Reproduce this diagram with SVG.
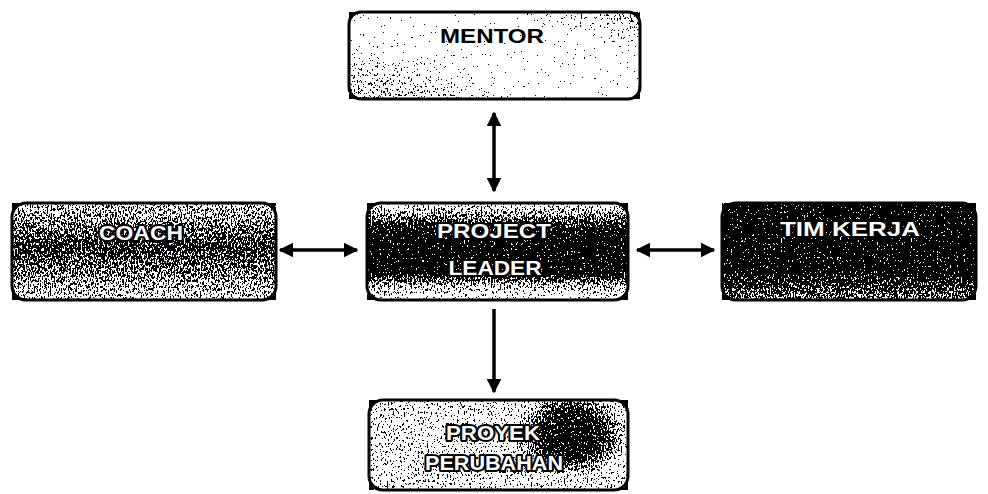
<svg xmlns="http://www.w3.org/2000/svg" width="988" height="494" viewBox="0 0 988 494">
<style>
.box{stroke:#000;stroke-width:3;fill:none}
.tx{font-family:"Liberation Sans",Arial,sans-serif;font-weight:bold;font-size:21px;text-anchor:middle}
.out{fill:#fff;stroke:#000;stroke-width:4;paint-order:stroke;stroke-linejoin:round}
.con{stroke:#000;stroke-width:3.5;fill:none}
</style>
<defs>
<filter id="dither" x="0" y="0" width="1" height="1" color-interpolation-filters="sRGB">
<feTurbulence type="fractalNoise" baseFrequency="0.7 0.35" numOctaves="3" seed="11" result="n"/>
<feColorMatrix in="n" type="matrix" values="1 0 0 0 0  1 0 0 0 0  1 0 0 0 0  0 0 0 0 1" result="g"/>
<feComposite in="SourceGraphic" in2="g" operator="arithmetic" k1="0" k2="1" k3="1.8" k4="-0.9" result="c"/>
<feComponentTransfer in="c">
<feFuncR type="discrete" tableValues="0 1"/>
<feFuncG type="discrete" tableValues="0 1"/>
<feFuncB type="discrete" tableValues="0 1"/>
<feFuncA type="linear" slope="0" intercept="1"/>
</feComponentTransfer>
</filter>
<linearGradient id="gM" x1="0" y1="1" x2="1" y2="0">
<stop offset="0" stop-color="#9a9a9a"/><stop offset="0.3" stop-color="#e6e6e6"/><stop offset="0.42" stop-color="#ffffff"/><stop offset="0.72" stop-color="#ffffff"/><stop offset="1" stop-color="#a0a0a0"/>
</linearGradient>
<linearGradient id="gC" x1="0" y1="0" x2="0" y2="1">
<stop offset="0" stop-color="#a8a8a8"/><stop offset="0.45" stop-color="#505050"/><stop offset="0.7" stop-color="#787878"/><stop offset="1" stop-color="#b0b0b0"/>
</linearGradient>
<linearGradient id="gP" x1="0" y1="0" x2="0" y2="1">
<stop offset="0" stop-color="#d0d0d0"/><stop offset="0.22" stop-color="#505050"/><stop offset="0.35" stop-color="#202020"/><stop offset="0.72" stop-color="#202020"/><stop offset="0.85" stop-color="#a0a0a0"/><stop offset="1" stop-color="#d8d8d8"/>
</linearGradient>
<linearGradient id="gT" x1="0" y1="0" x2="0" y2="1">
<stop offset="0" stop-color="#202020"/><stop offset="0.7" stop-color="#202020"/><stop offset="1" stop-color="#808080"/>
</linearGradient>
<radialGradient id="gY" cx="0.78" cy="0.38" r="0.22" gradientTransform="translate(0.78 0.38) scale(1 2.2) translate(-0.78 -0.38)">
<stop offset="0" stop-color="#202020"/><stop offset="0.55" stop-color="#404040"/><stop offset="1" stop-color="#c4c4c4"/>
</radialGradient>
<marker id="ah" viewBox="0 0 10 10" refX="9" refY="5" markerWidth="4.2" markerHeight="4.2" orient="auto-start-reverse" markerUnits="strokeWidth">
<path d="M0,0 L10,5 L0,10 z" fill="#000"/>
</marker>
</defs>

<g id="mentor">
<rect x="349" y="12" width="291" height="87" rx="12" fill="url(#gM)" filter="url(#dither)"/>
<rect class="box" x="349" y="12" width="291" height="87" rx="12"/>
<text class="tx" x="492" y="43" fill="#000" textLength="104" lengthAdjust="spacingAndGlyphs">MENTOR</text>
</g>

<g id="coach">
<rect x="12" y="203" width="264" height="97" rx="14" fill="url(#gC)" filter="url(#dither)"/>
<rect class="box" x="12" y="203" width="264" height="97" rx="14"/>
<text class="tx out" x="141" y="240" textLength="84" lengthAdjust="spacingAndGlyphs">COACH</text>
</g>

<g id="project-leader">
<rect x="367" y="203" width="261" height="97" rx="14" fill="url(#gP)" filter="url(#dither)"/>
<rect class="box" x="367" y="203" width="261" height="97" rx="14"/>
<text class="tx out" x="494" y="238" textLength="114" lengthAdjust="spacingAndGlyphs">PROJECT</text>
<text class="tx out" x="495" y="275" textLength="93" lengthAdjust="spacingAndGlyphs">LEADER</text>
</g>

<g id="tim-kerja">
<rect x="722" y="203" width="254" height="97" rx="14" fill="url(#gT)" filter="url(#dither)"/>
<rect class="box" x="722" y="203" width="254" height="97" rx="14"/>
<text class="tx out" x="850" y="236" textLength="140" lengthAdjust="spacingAndGlyphs">TIM KERJA</text>
</g>

<g id="proyek-perubahan">
<rect x="369" y="400" width="259" height="90" rx="14" fill="url(#gY)" filter="url(#dither)"/>
<rect class="box" x="369" y="400" width="259" height="90" rx="14"/>
<text class="tx out" x="493" y="440" textLength="94" lengthAdjust="spacingAndGlyphs">PROYEK</text>
<text class="tx out" x="494" y="470" textLength="138" lengthAdjust="spacingAndGlyphs">PERUBAHAN</text>
</g>

<g id="connectors">
<line class="con" x1="494" y1="113" x2="494" y2="191" marker-start="url(#ah)" marker-end="url(#ah)"/>
<line class="con" x1="280" y1="250" x2="357" y2="250" marker-start="url(#ah)" marker-end="url(#ah)"/>
<line class="con" x1="637" y1="250" x2="714" y2="250" marker-start="url(#ah)" marker-end="url(#ah)"/>
<line class="con" x1="494" y1="309" x2="494" y2="392" marker-end="url(#ah)"/>
</g>
</svg>
